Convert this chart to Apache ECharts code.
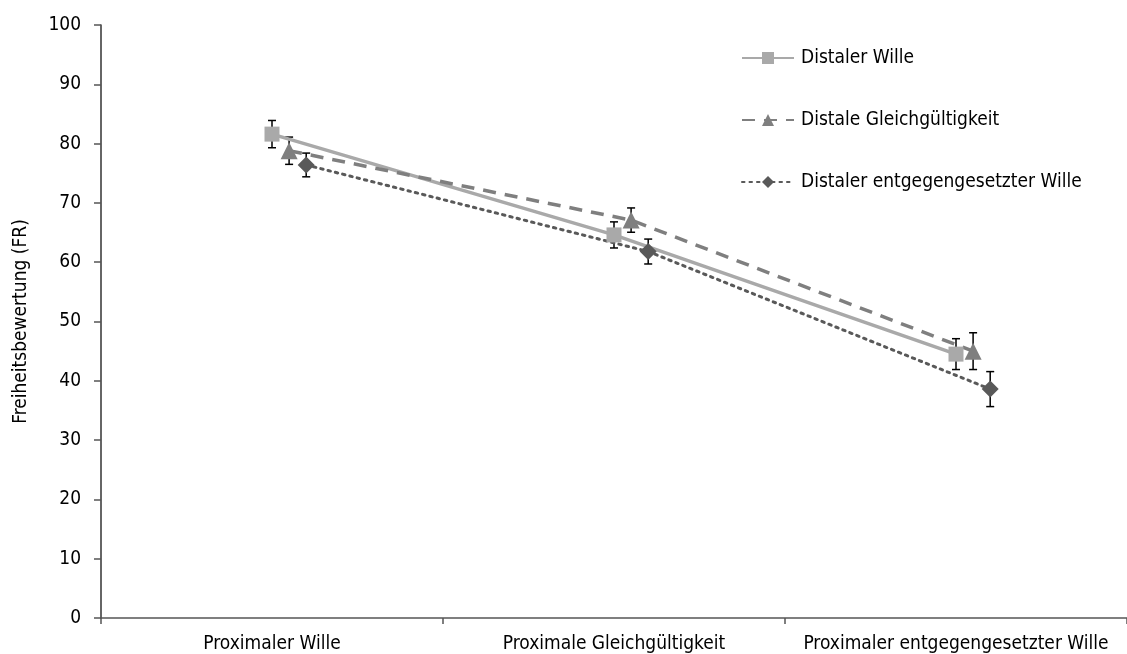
<!DOCTYPE html>
<html>
<head>
<meta charset="utf-8">
<script src="https://cdn.jsdelivr.net/npm/echarts@6/dist/echarts.min.js"></script>
<style>
html,body{margin:0;padding:0;background:#fff;}
#chart{width:1127px;height:654px;}
</style>
</head>
<body>
<div id="chart"></div>
<script>
const categories = ['Proximaler Wille', 'Proximale Gleichgültigkeit', 'Proximaler entgegengesetzter Wille'];
const seriesNames = ['Distaler Wille', 'Distale Gleichgültigkeit', 'Distaler entgegengesetzter Wille'];
const distalerWille = [81.6, 64.6, 44.5];
const distalerWilleErr = [2.3, 2.2, 2.6];
const distaleGleich = [78.8, 67.1, 45.0];
const distaleGleichErr = [2.3, 2.05, 3.1];
const distalerEntgegen = [76.4, 61.8, 38.6];
const distalerEntgegenErr = [2.0, 2.1, 2.95];
const yTicks = [0, 10, 20, 30, 40, 50, 60, 70, 80, 90, 100];

const FONT = '"DejaVu Sans Condensed", "DejaVu Sans", sans-serif';
const values = [distalerWille, distaleGleich, distalerEntgegen];
const errors = [distalerWilleErr, distaleGleichErr, distalerEntgegenErr];
const xShift = [0.5, 0.55, 0.6];
const styles = [
  {color: '#a9a9a9', symbol: 'rect', size: 15, line: {type: 'solid', width: 3.5}},
  {color: '#7f7f7f', symbol: 'triangle', size: 17, line: {type: [13, 9], width: 3.5}},
  {color: '#595959', symbol: 'diamond', size: 17, line: {type: [2.5, 5], width: 3, cap: 'round'}}
];

const series = [];
values.forEach((vals, s) => {
  const st = styles[s];
  series.push({
    name: seriesNames[s],
    type: 'line',
    xAxisIndex: 0,
    data: vals.map((v, i) => [i + xShift[s], v]),
    symbol: st.symbol,
    symbolSize: st.size,
    itemStyle: {color: st.color},
    lineStyle: {color: st.color, width: st.line.width, type: st.line.type, cap: st.line.cap || 'butt'},
    z: 3,
    animation: false
  });
  series.push({
    type: 'custom',
    xAxisIndex: 0,
    data: vals.map((v, i) => [i + xShift[s], v - errors[s][i], v + errors[s][i]]),
    renderItem: function (params, api) {
      const x = api.value(0);
      const lo = api.coord([x, api.value(1)]);
      const hi = api.coord([x, api.value(2)]);
      const cw = 4;
      const st = {stroke: '#000', lineWidth: 1.5};
      return {
        type: 'group',
        children: [
          {type: 'line', shape: {x1: lo[0], y1: lo[1], x2: hi[0], y2: hi[1]}, style: st},
          {type: 'line', shape: {x1: lo[0] - cw, y1: lo[1], x2: lo[0] + cw, y2: lo[1]}, style: st},
          {type: 'line', shape: {x1: hi[0] - cw, y1: hi[1], x2: hi[0] + cw, y2: hi[1]}, style: st}
        ]
      };
    },
    z: 2,
    silent: true,
    animation: false
  });
});

const chart = echarts.init(document.getElementById('chart'));
chart.setOption({
  animation: false,
  grid: {left: 101, right: 0, top: 25, bottom: 35, containLabel: false},
  legend: {
    data: seriesNames,
    orient: 'vertical',
    left: 736,
    top: 43,
    itemWidth: 52,
    itemHeight: 15,
    itemGap: 42,
    textStyle: {fontFamily: FONT, fontSize: 19, color: '#000', lineHeight: 20, padding: [0, 0, 0, 2]}
  },
  xAxis: [
    {
      type: 'value', min: 0, max: 3, interval: 1, position: 'bottom',
      axisLine: {show: true, lineStyle: {color: '#555', width: 1.5}},
      axisTick: {show: true, inside: false, length: 6, lineStyle: {color: '#555', width: 1.5}},
      axisLabel: {show: false},
      splitLine: {show: false}
    },
    {
      type: 'category', data: categories, position: 'bottom', boundaryGap: true,
      axisLine: {show: false}, axisTick: {show: false}, splitLine: {show: false},
      axisLabel: {fontFamily: FONT, fontSize: 19, color: '#000', margin: 17, interval: 0}
    }
  ],
  yAxis: {
    type: 'value', min: yTicks[0], max: yTicks[yTicks.length - 1], interval: yTicks[1] - yTicks[0],
    name: 'Freiheitsbewertung (FR)', nameLocation: 'middle', nameGap: 70, nameRotate: 90,
    nameTextStyle: {fontFamily: FONT, fontSize: 19, color: '#000'},
    axisLine: {show: true, lineStyle: {color: '#333', width: 1.5}},
    axisTick: {show: true, inside: false, length: 7, lineStyle: {color: '#555', width: 1.5}},
    axisLabel: {fontFamily: FONT, fontSize: 19, color: '#000', margin: 20},
    splitLine: {show: false}
  },
  series: series
});
</script>
</body>
</html>
